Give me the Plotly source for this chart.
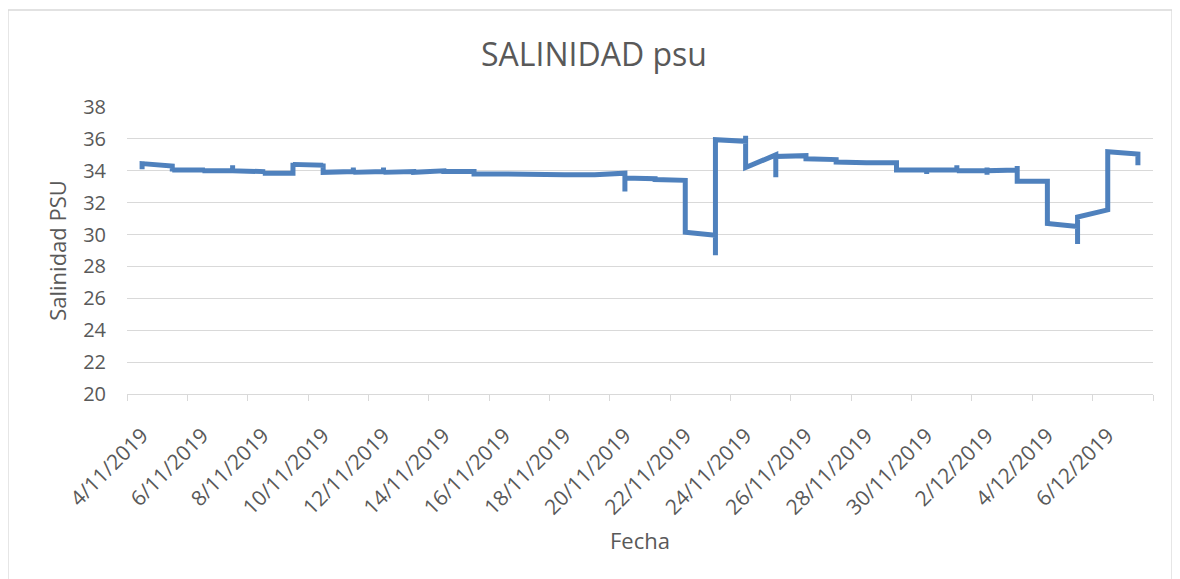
import plotly.graph_objects as go
import pandas as pd

# Fecha de cada lectura (varias lecturas por día)
fechas = (
    ["2019-11-04"] * 3 + ["2019-11-05"] * 3 + ["2019-11-06"] * 4 + ["2019-11-07"] * 4 +
    ["2019-11-08"] * 3 + ["2019-11-09"] * 3 + ["2019-11-10"] * 3 + ["2019-11-11"] * 4 +
    ["2019-11-12"] * 4 + ["2019-11-13"] * 2 + ["2019-11-14"] * 2 + ["2019-11-15"] * 2 +
    ["2019-11-16"] * 2 + ["2019-11-17"] * 2 + ["2019-11-18"] * 2 + ["2019-11-19"] * 2 +
    ["2019-11-20"] * 3 + ["2019-11-21"] * 2 + ["2019-11-22"] * 2 + ["2019-11-23"] * 3 +
    ["2019-11-24"] * 3 + ["2019-11-25"] * 3 + ["2019-11-26"] * 2 + ["2019-11-27"] * 2 +
    ["2019-11-28"] * 2 + ["2019-11-29"] * 2 + ["2019-11-30"] * 3 + ["2019-12-01"] * 4 +
    ["2019-12-02"] * 4 + ["2019-12-03"] * 3 + ["2019-12-04"] * 2 + ["2019-12-05"] * 3 +
    ["2019-12-06"] * 2 + ["2019-12-07"] * 2
)

salinidad = [
    34.6, 34.1, 34.45,
    34.3, 33.95, 34.05,
    34.05, 34.2, 33.9, 34.0,
    34.0, 34.35, 33.95, 34.0,
    33.95, 33.8, 33.85,
    33.85, 34.5, 34.4,
    34.35, 34.45, 33.9,
    33.95, 34.2, 33.8, 33.9,
    33.95, 34.2, 33.8, 33.9,
    33.95, 33.9,
    34.0, 33.95,
    33.95, 33.8,
    33.8, 33.8,
    33.75, 33.75,
    33.75, 33.75,
    33.75, 33.75,
    33.85, 32.7, 33.55,
    33.5, 33.45,
    33.4, 30.15,
    29.95, 28.7, 35.95,
    35.85, 36.2, 34.2,
    35.0, 33.6, 34.9,
    34.95, 34.75,
    34.7, 34.55,
    34.5, 34.5,
    34.5, 34.05,
    34.05, 33.8, 34.05,
    34.05, 34.35, 33.95, 34.0,
    34.0, 34.2, 33.75, 34.0,
    34.05, 34.3, 33.35,
    33.35, 30.7,
    30.5, 29.4, 31.1,
    31.55, 35.2,
    35.05, 34.35,
]

# Etiquetas del eje X (cada 2 días)
etiquetas_fecha = pd.date_range("2019-11-04", "2019-12-06", freq="2D")
etiquetas_texto = [f"{d.day}/{d.month}/{d.year}" for d in etiquetas_fecha]
y_ticks = list(range(20, 39, 2))

TXT = "#595959"
GRID = "#D9D9D9"
FONT = "Open Sans"

# Excel date axis: each day is a category centred at mid-day
x_pos = pd.to_datetime(fechas) + pd.Timedelta(hours=12)
label_pos = etiquetas_fecha + pd.Timedelta(hours=12)
x_range = ["2019-11-04", "2019-12-08"]

fig = go.Figure()
fig.add_trace(go.Scatter(
    x=x_pos, y=salinidad, mode="lines",
    line=dict(color="#4F81BD", width=5, shape="linear"),
    showlegend=False, hoverinfo="x+y",
))
# invisible trace on the tick-mark axis so it renders
fig.add_trace(go.Scatter(x=[x_range[0]], y=[None], xaxis="x2", showlegend=False,
                         hoverinfo="skip"))

OFF = 8  # page body margin
W, H = 1180 - OFF, 579 - OFF
L, R, T, B = 127 - OFF, 27, 107 - OFF, 185
pw, ph = W - L - R, H - T - B

def px(xp):
    return (xp - OFF - L) / pw

def py(yp):
    return (H - B - (yp - OFF)) / ph

fig.update_layout(
    width=W, height=H,
    margin=dict(l=L, r=R, t=T, b=B, autoexpand=False),
    paper_bgcolor="white", plot_bgcolor="white",
    title=dict(text="SALINIDAD psu", x=0.5, xanchor="center", y=1 - (55 - OFF) / H,
               yanchor="middle", font=dict(family=FONT, size=32, color=TXT)),
    font=dict(family=FONT, color=TXT),
    xaxis=dict(
        type="date", range=x_range,
        tickmode="array", tickvals=label_pos, ticktext=etiquetas_texto,
        tickangle=-45, ticks="outside", ticklen=20, tickcolor="rgba(0,0,0,0)",
        showgrid=False, zeroline=False, showline=False,
        tickfont=dict(family=FONT, size=21, color=TXT),
        title=dict(text="Fecha", font=dict(family=FONT, size=22, color=TXT), standoff=14),
    ),
    xaxis2=dict(
        type="date", range=x_range, overlaying="x", anchor="y", side="bottom",
        tickmode="linear", tick0="2019-11-04", dtick=2 * 86400000,
        ticks="outside", ticklen=6, tickcolor=GRID, tickwidth=1.3,
        showticklabels=False, showgrid=False, zeroline=False,
        showline=True, linecolor=GRID, linewidth=1.3,
    ),
    yaxis=dict(
        range=[20, 38], tickmode="array", tickvals=y_ticks,
        showgrid=True, gridcolor=GRID, gridwidth=1.3, zeroline=False,
        showline=False, ticks="", ticklabelstandoff=20,
        tickfont=dict(family=FONT, size=20, color=TXT),
        title=dict(text="Salinidad PSU", font=dict(family=FONT, size=22, color=TXT), standoff=10),
    ),
    shapes=[dict(type="rect", xref="paper", yref="paper",
                 x0=px(8), x1=px(1172), y0=py(600), y1=py(10),
                 line=dict(color=GRID, width=1.3), fillcolor="rgba(0,0,0,0)", layer="below")],
)

fig.write_html("out.html")
